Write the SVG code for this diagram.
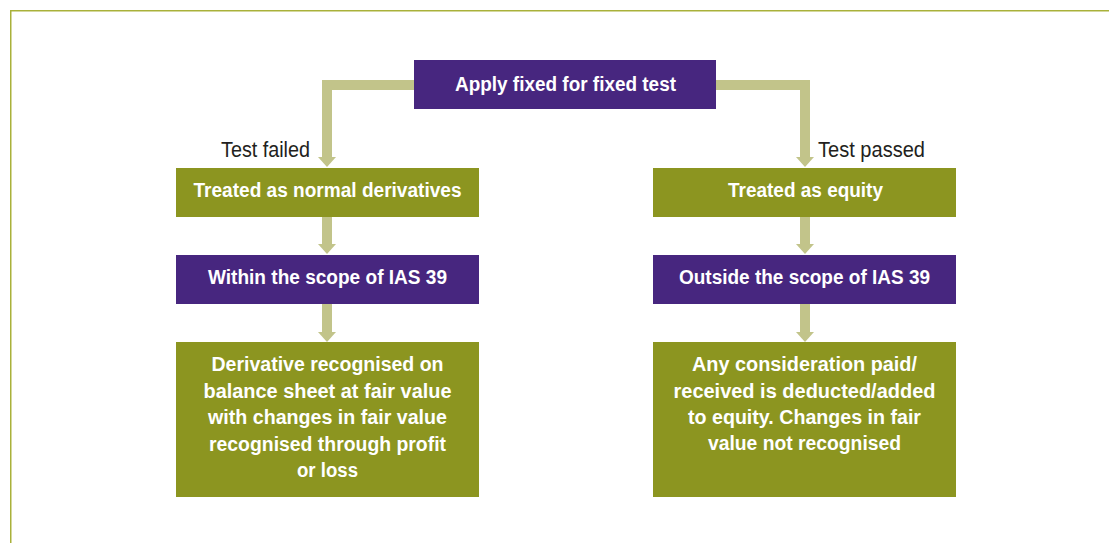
<svg xmlns="http://www.w3.org/2000/svg" width="1109" height="543" viewBox="0 0 1109 543">
<style>
.olive{fill:#8c9520}
.purple{fill:#47267f}
.bt{font-family:"Liberation Sans",Arial,sans-serif;font-weight:bold;font-size:20px;fill:#ffffff;text-anchor:middle}
.lbl{font-family:"Liberation Sans",Arial,sans-serif;font-size:22px;fill:#231f20}
.shaft{fill:none;stroke:#c2c48a;stroke-width:10}
.head{fill:#c2c48a}
</style>
<rect width="1109" height="543" fill="#ffffff"/>
<path d="M10.75 543 V10.75 H1109" fill="none" stroke="#a9b13a" stroke-width="1.5"/>
<g id="connectors">
<path class="shaft" d="M414 85 H327 V157"/>
<polygon class="head" points="318,157 336,157 327,167"/>
<path class="shaft" d="M716 85 H805 V157"/>
<polygon class="head" points="796,157 814,157 805,167"/>
<path class="shaft" d="M327 217 V244"/>
<polygon class="head" points="318,244 336,244 327,254"/>
<path class="shaft" d="M327 304 V332"/>
<polygon class="head" points="318,332 336,332 327,342"/>
<path class="shaft" d="M805 217 V244"/>
<polygon class="head" points="796,244 814,244 805,254"/>
<path class="shaft" d="M805 304 V332"/>
<polygon class="head" points="796,332 814,332 805,342"/>
</g>
<g id="label-failed"><text class="lbl" x="221" y="157" textLength="89" lengthAdjust="spacingAndGlyphs">Test failed</text></g>
<g id="label-passed"><text class="lbl" x="818" y="157" textLength="107" lengthAdjust="spacingAndGlyphs">Test passed</text></g>
<g id="apply">
<rect class="purple" x="414" y="60" width="302" height="49"/>
<text class="bt" x="565.5" y="91" textLength="221" lengthAdjust="spacingAndGlyphs">Apply fixed for fixed test</text>
</g>
<g id="normal">
<rect class="olive" x="176" y="168" width="303" height="49"/>
<text class="bt" x="327.5" y="197" textLength="268" lengthAdjust="spacingAndGlyphs">Treated as normal derivatives</text>
</g>
<g id="within">
<rect class="purple" x="176" y="255" width="303" height="49"/>
<text class="bt" x="327.5" y="284" textLength="239" lengthAdjust="spacingAndGlyphs">Within the scope of IAS 39</text>
</g>
<g id="derivative">
<rect class="olive" x="176" y="342" width="303" height="155"/>
<text class="bt" x="327.5" y="371" textLength="232" lengthAdjust="spacingAndGlyphs">Derivative recognised on</text>
<text class="bt" x="327.5" y="398" textLength="248" lengthAdjust="spacingAndGlyphs">balance sheet at fair value</text>
<text class="bt" x="327.5" y="424" textLength="239" lengthAdjust="spacingAndGlyphs">with changes in fair value</text>
<text class="bt" x="327.5" y="451" textLength="237" lengthAdjust="spacingAndGlyphs">recognised through profit</text>
<text class="bt" x="327.5" y="477" textLength="61" lengthAdjust="spacingAndGlyphs">or loss</text>
</g>
<g id="equity">
<rect class="olive" x="653" y="168" width="303" height="49"/>
<text class="bt" x="805.5" y="197" textLength="155" lengthAdjust="spacingAndGlyphs">Treated as equity</text>
</g>
<g id="outside">
<rect class="purple" x="653" y="255" width="303" height="49"/>
<text class="bt" x="804.5" y="284" textLength="251" lengthAdjust="spacingAndGlyphs">Outside the scope of IAS 39</text>
</g>
<g id="consideration">
<rect class="olive" x="653" y="342" width="303" height="155"/>
<text class="bt" x="804.5" y="371" textLength="225" lengthAdjust="spacingAndGlyphs">Any consideration paid/</text>
<text class="bt" x="804.5" y="398" textLength="262" lengthAdjust="spacingAndGlyphs">received is deducted/added</text>
<text class="bt" x="804.5" y="424" textLength="233" lengthAdjust="spacingAndGlyphs">to equity. Changes in fair</text>
<text class="bt" x="804.5" y="450" textLength="193" lengthAdjust="spacingAndGlyphs">value not recognised</text>
</g>
</svg>
